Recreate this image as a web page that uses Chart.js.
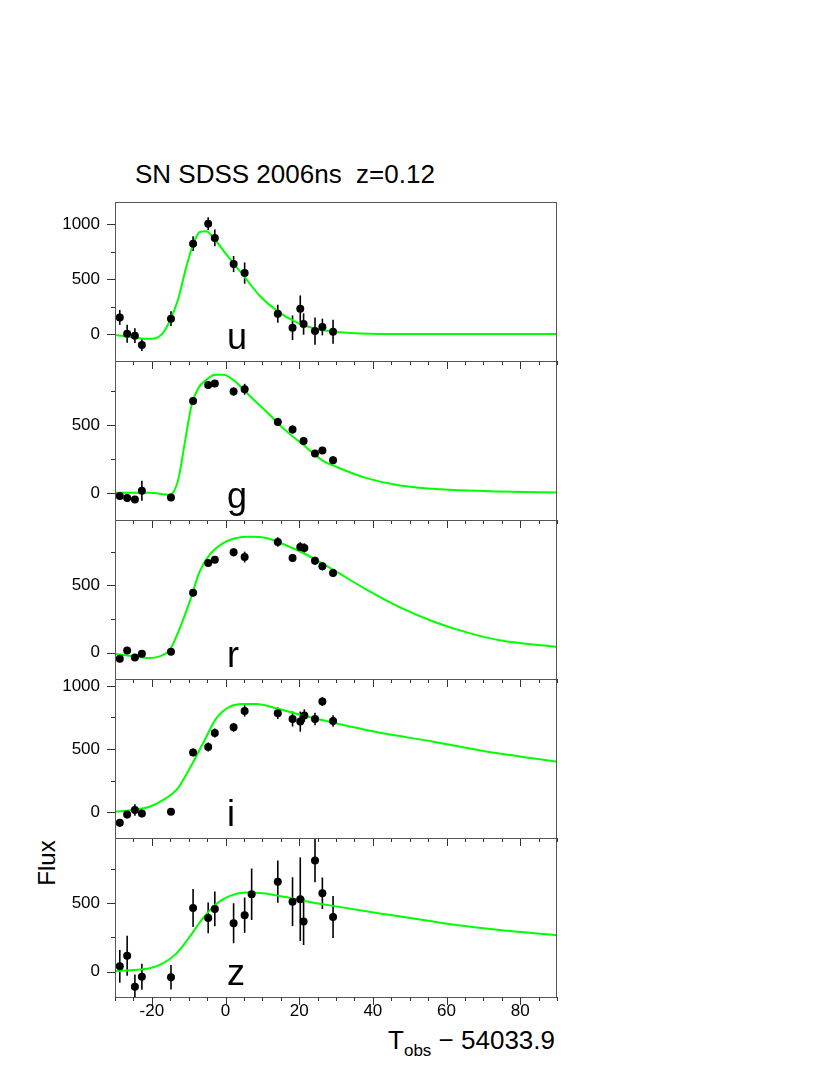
<!DOCTYPE html>
<html>
<head>
<meta charset="utf-8">
<script src="https://cdn.jsdelivr.net/npm/chart.js@4.4.1/dist/chart.umd.min.js"></script>
<style>
  body { margin: 0; background: #fff; width: 830px; height: 1075px; position: relative; overflow: hidden;
         font-family: "Liberation Sans", Arial, sans-serif; color: #000; }
  canvas { position: absolute; left: 0; }
  .title { position: absolute; left: 135px; top: 161px; font-size: 26px; line-height: 26px; white-space: pre; }
  .ylab { position: absolute; left: 0; top: 851px; width: 94px; text-align: center; font-size: 24px; line-height: 24px;
          transform: rotate(-90deg); transform-origin: 47px 12px; }
  .xlab { position: absolute; right: 275px; top: 1027px; font-size: 26px; line-height: 26px; white-space: nowrap; }
  .xlab sub { font-size: 17px; vertical-align: -7px; line-height: 0; }
</style>
</head>
<body>
<div class="title">SN SDSS 2006ns  z=0.12</div>
<div class="ylab">Flux</div>
<div class="xlab">T<sub>obs</sub> &minus; 54033.9</div>

<script>
// ---- data ----
const xTicks = [-20, 0, 20, 40, 60, 80];

// u band
const uT    = [-28.7, -26.7, -24.6, -22.7, -14.8, -8.8, -4.7, -2.9, 2.2, 5.2, 14.2, 18.2, 20.3, 21.2, 24.3, 26.3, 29.2];
const uFlux = [151, 3, -15, -100, 139, 821, 1003, 873, 636, 554, 185, 57, 230, 91, 27, 64, 21];
const uErr  = [67, 82, 67, 53, 67, 67, 58, 76, 73, 97, 82, 112, 121, 97, 124, 76, 109];
const uModelT = [-30, -25, -22, -20, -17, -14.8, -12.9, -10.6, -8.8, -7, -5.2, -3.4, 0.3, 5.2, 9.3, 14.2, 19.3, 24.7, 30.2, 39.2, 51.9, 70, 90];
const uModel  = [-9, -31, -43, -43, 9, 145, 312, 615, 812, 927, 935, 880, 721, 518, 348, 206, 106, 45, 18, 3, 0, 0, 0];

// g band
const gT    = [-28.7, -26.7, -24.6, -22.7, -14.8, -8.8, -4.7, -2.9, 2.2, 5.2, 14.2, 18.2, 21.2, 24.3, 26.3, 29.2];
const gFlux = [-24, -39, -49, 15, -34, 676, 794, 804, 745, 762, 522, 466, 382, 289, 311, 240];
const gErr  = [20, 20, 20, 73, 20, 30, 25, 25, 30, 40, 30, 30, 30, 25, 25, 30];
const gModelT = [-30, -20.6, -15.1, -12.9, -11, -9.2, -7.4, -5.2, -2.9, -0.6, 2.1, 6.6, 11.1, 15.6, 21.1, 26.5, 30.2, 38.3, 47.4, 60.9, 74.5, 90];
const gModel  = [0, 0, -15, 88, 377, 647, 770, 831, 868, 868, 831, 713, 598, 476, 353, 235, 190, 108, 54, 22, 10, 3];

// r band
const rT    = [-28.7, -26.7, -24.6, -22.7, -14.8, -8.8, -4.7, -2.9, 2.2, 5.2, 14.2, 18.2, 20.3, 21.4, 24.3, 26.3, 29.2];
const rFlux = [-45, 17, -35, -7, 7, 445, 666, 690, 745, 710, 822, 703, 785, 777, 683, 641, 592];
const rErr  = [25, 25, 25, 25, 20, 25, 25, 25, 30, 40, 35, 30, 35, 35, 30, 30, 30];
const rModelT = [-30, -25, -20.6, -17.9, -15.1, -12.4, -9.7, -7, -4.3, -0.6, 3, 6.6, 11.1, 15.6, 21.1, 29.2, 38.3, 47.4, 56.4, 65.5, 74.5, 90];
const rModel  = [-10, -27, -40, -27, 22, 183, 381, 604, 728, 814, 851, 861, 851, 807, 740, 616, 468, 336, 232, 151, 92, 42];

// i band
const iT    = [-28.7, -26.7, -24.6, -22.7, -14.8, -8.8, -4.7, -2.9, 2.2, 5.2, 14.2, 18.2, 20.3, 21.4, 24.3, 26.3, 29.2];
const iFlux = [-85, -19, 16, -11, 3, 473, 516, 627, 672, 802, 783, 738, 717, 765, 738, 876, 722];
const iErr  = [30, 30, 45, 30, 25, 30, 35, 35, 35, 45, 45, 60, 80, 50, 50, 35, 45];
const iModelT = [-30, -25, -20.6, -17, -13.3, -9.7, -6.1, -2.5, 1.2, 4.8, 8.4, 13.8, 21.1, 29.2, 42.8, 56.4, 70, 90];
const iModel  = [3, 16, 42, 95, 175, 347, 545, 743, 836, 857, 857, 823, 765, 709, 624, 558, 484, 399];

// z band
const zT    = [-28.7, -26.7, -24.6, -22.7, -14.8, -8.8, -4.7, -2.9, 2.2, 5.2, 7.1, 14.2, 18.2, 20.3, 21.2, 24.3, 26.3, 29.2];
const zFlux = [39, 117, -110, -37, -41, 466, 393, 459, 354, 413, 566, 658, 512, 530, 366, 812, 573, 400];
const zErr  = [120, 146, 90, 95, 90, 139, 112, 127, 146, 129, 188, 154, 178, 305, 171, 158, 115, 154];
const zModelT = [-30, -25, -20.6, -17, -13.3, -9.7, -6.1, -2.5, 1.2, 5.7, 10.2, 15.6, 21.1, 29.2, 42.8, 56.4, 70, 90];
const zModel  = [5, 12, 25, 61, 134, 256, 391, 495, 554, 578, 573, 549, 519, 481, 422, 366, 317, 266];

const panels = [
  { band: "u", t: uT, flux: uFlux, err: uErr, mt: uModelT, m: uModel, yMin: -245, yMax: 1200, yTicks: [0, 500, 1000] },
  { band: "g", t: gT, flux: gFlux, err: gErr, mt: gModelT, m: gModel, yMin: -200, yMax: 970,  yTicks: [0, 500] },
  { band: "r", t: rT, flux: rFlux, err: rErr, mt: rModelT, m: rModel, yMin: -195, yMax: 985,  yTicks: [0, 500] },
  { band: "i", t: iT, flux: iFlux, err: iErr, mt: iModelT, m: iModel, yMin: -206, yMax: 1055, yTicks: [0, 500, 1000] },
  { band: "z", t: zT, flux: zFlux, err: zErr, mt: zModelT, m: zModel, yMin: -185, yMax: 977,  yTicks: [0, 500] },
];

// ---- layout ----
const PANEL_TOP = 202, PANEL_H = 159, PAD = 20, LEFT = 115, CANVAS_W = 600, PLOT_RIGHT = 557;
const FONT = { family: "'Liberation Sans', Arial, sans-serif", size: 17 };

// frame, outward ticks, error bars, band letter
const panelDeco = {
  id: "panelDeco",
  beforeDatasetsDraw(chart) {
    const { ctx, chartArea: a, scales: { x, y } } = chart;
    const p = chart.options.plugins.panelDeco;
    ctx.save();
    ctx.beginPath();
    ctx.rect(a.left, a.top, a.right - a.left, a.bottom - a.top);
    ctx.clip();
    ctx.strokeStyle = "#000";
    ctx.lineWidth = 1.6;
    p.t.forEach((t, i) => {
      const px = x.getPixelForValue(t);
      ctx.beginPath();
      ctx.moveTo(px, y.getPixelForValue(p.flux[i] - p.err[i]));
      ctx.lineTo(px, y.getPixelForValue(p.flux[i] + p.err[i]));
      ctx.stroke();
    });
    ctx.restore();
  },
  afterDraw(chart) {
    const { ctx, chartArea: a, scales: { x, y } } = chart;
    const p = chart.options.plugins.panelDeco;
    ctx.save();
    ctx.strokeStyle = "#555";
    ctx.lineWidth = 1;
    ctx.strokeRect(a.left + 0.5, a.top + 0.5, a.right - a.left - 1, a.bottom - a.top);
    ctx.strokeStyle = "#333";
    // x ticks every 5, long every 20, pointing down out of the box
    for (let v = -30; v <= 90; v += 5) {
      const px = Math.round(x.getPixelForValue(v)) + 0.5;
      const len = v % 20 === 0 ? 8 : 4;
      ctx.beginPath();
      ctx.moveTo(px, a.bottom);
      ctx.lineTo(px, a.bottom + len);
      ctx.stroke();
    }
    // y ticks every 250, long every 500, pointing left
    for (let v = -250; v <= 1250; v += 250) {
      if (v < p.yMin || v > p.yMax) continue;
      const py = Math.round(y.getPixelForValue(v)) + 0.5;
      const len = v % 500 === 0 ? 8 : 4;
      ctx.beginPath();
      ctx.moveTo(a.left, py);
      ctx.lineTo(a.left - len, py);
      ctx.stroke();
    }
    // band letter
    ctx.fillStyle = "#000";
    ctx.font = "36px 'Liberation Sans', Arial, sans-serif";
    ctx.textBaseline = "alphabetic";
    ctx.fillText(p.band, a.left + 112, a.top + 147);
    ctx.restore();
  },
};

panels.forEach((p, k) => {
  const last = k === panels.length - 1;
  const c = document.createElement("canvas");
  const h = PAD + PANEL_H + (last ? 40 : PAD);
  c.width = CANVAS_W; c.height = h;
  c.style.top = (PANEL_TOP + k * PANEL_H - PAD) + "px";
  c.style.width = CANVAS_W + "px"; c.style.height = h + "px";
  document.body.appendChild(c);

  const chart = new Chart(c.getContext("2d"), {
    type: "scatter",
    data: {
      datasets: [
        {
          type: "scatter",
          data: p.t.map((t, i) => ({ x: t, y: p.flux[i] })),
          pointRadius: 4,
          pointBackgroundColor: "#000",
          pointBorderWidth: 0,
        },
        {
          type: "line",
          data: p.mt.map((t, i) => ({ x: t, y: p.m[i] })),
          borderColor: "#00ff00",
          borderWidth: 2,
          pointRadius: 0,
          cubicInterpolationMode: "monotone",
          fill: false,
        },
      ],
    },
    options: {
      responsive: false,
      maintainAspectRatio: false,
      animation: false,
      events: [],
      layout: { padding: { left: 0, right: CANVAS_W - PLOT_RIGHT, top: PAD, bottom: last ? 10 : PAD } },
      plugins: {
        legend: { display: false },
        tooltip: { enabled: false },
        panelDeco: { band: p.band, t: p.t, flux: p.flux, err: p.err, yMin: p.yMin, yMax: p.yMax },
      },
      scales: {
        x: {
          type: "linear",
          min: -30, max: 90,
          display: last,
          grid: { display: false, drawTicks: false },
          border: { display: false },
          afterBuildTicks: s => { s.ticks = xTicks.map(v => ({ value: v })); },
          afterFit: s => { s.height = last ? 30 : 0; s.paddingLeft = 0; s.paddingRight = 0; },
          ticks: { font: FONT, color: "#000", padding: 4, maxRotation: 0, autoSkip: false, callback: v => String(v) },
        },
        y: {
          type: "linear",
          min: p.yMin, max: p.yMax,
          grid: { display: false, drawTicks: false },
          border: { display: false },
          afterBuildTicks: s => { s.ticks = p.yTicks.map(v => ({ value: v })); },
          afterFit: s => { s.width = LEFT; s.paddingTop = 0; s.paddingBottom = 0; },
          ticks: { font: FONT, color: "#000", padding: 15, callback: v => String(v) },
        },
      },
    },
    plugins: [panelDeco],
  });

  // make sure the plot box is exactly PANEL_H tall and sits on its slot
  let a = chart.chartArea;
  const dh = PANEL_H - (a.bottom - a.top);
  if (Math.abs(dh) > 0.1) {
    chart.resize(CANVAS_W, h + dh);
    a = chart.chartArea;
  }
  c.style.top = (PANEL_TOP + k * PANEL_H - a.top) + "px";
});
</script>
</body>
</html>
